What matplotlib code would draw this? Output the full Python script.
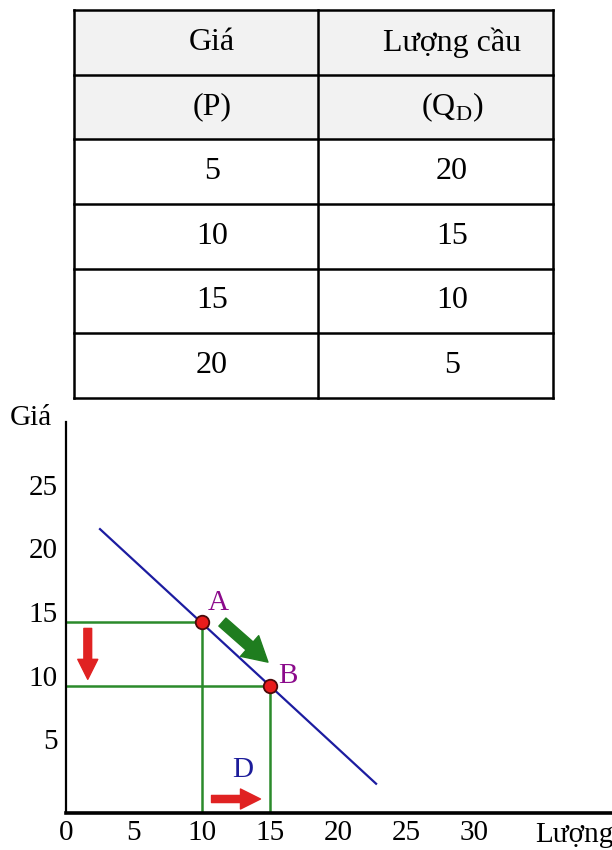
import numpy as np
import matplotlib.pyplot as plt
import matplotlib.transforms as mtransforms

# du lieu bang cau
header1 = ['Giá', 'Lượng cầu']
header2 = ['(P)', '(Q$_\\mathregular{D}$)']
gia = [5, 10, 15, 20]
luong_cau = [20, 15, 10, 5]

# duong cau va hai diem A, B
demand_q = [2.5, 22.8]
demand_p = [22.3, 2.3]
point_q = [10, 15]
point_p = [15, 10]
point_names = ['A', 'B']
xticks = [0, 5, 10, 15, 20, 25, 30]
yticks = [5, 10, 15, 20, 25]


def main():
    plt.rcParams['font.family'] = ['Liberation Serif', 'DejaVu Serif']
    W, H = 612, 850
    fig = plt.figure(figsize=(W / 100, H / 100), dpi=100)

    # ---- bang ----
    tl, tm, tr, tt, tb = 74, 318, 553, 10, 398
    axt = fig.add_axes([tl / W, 1 - tb / H, (tr - tl) / W, (tb - tt) / H])
    nrow = 2 + len(gia)
    axt.set_xlim(tl, tr)
    axt.set_ylim(nrow, 0)
    axt.axis('off')
    for r in range(2):
        axt.add_patch(plt.Rectangle((tl, r), tr - tl, 1, facecolor='#f2f2f2', edgecolor='none'))
    for r in range(nrow + 1):
        axt.plot([tl, tr], [r, r], color='black', lw=1.8, clip_on=False, solid_capstyle='projecting')
    for c in [tl, tm, tr]:
        axt.plot([c, c], [0, nrow], color='black', lw=1.8, clip_on=False, solid_capstyle='projecting')
    rows = [header1, header2] + [[str(g), str(q)] for g, q in zip(gia, luong_cau)]
    col_x = [212, 452]
    for r, row in enumerate(rows):
        for c, txt in enumerate(row):
            axt.text(col_x[c], r + 0.5, txt, ha='center', va='center', fontsize=23)

    # ---- do thi ----
    ox, oy = 66, 813
    sx, sy = 13.6, 12.73
    ax = fig.add_axes([ox / W, 1 - oy / H, (W - ox) / W, (oy - 422) / H])
    ax.set_xlim(0, (W - ox) / sx)
    ax.set_ylim(0, (oy - 422) / sy)
    for s in ['top', 'right']:
        ax.spines[s].set_visible(False)
    ax.spines['left'].set_linewidth(1.6)
    ax.spines['bottom'].set_linewidth(2.6)
    ax.set_xticks(xticks)
    ax.set_yticks(yticks)
    ax.tick_params(length=0, labelsize=21)
    ax.tick_params(axis='x', pad=5)
    ax.tick_params(axis='y', pad=6)
    off = mtransforms.ScaledTranslation(0, 10 / 100, fig.dpi_scale_trans)
    for lab in ax.get_yticklabels():
        lab.set_transform(lab.get_transform() + off)

    green = '#2b8a2b'
    for q, p in zip(point_q, point_p):
        ax.plot([0, q], [p, p], color=green, lw=1.8)
        ax.plot([q, q], [0, p], color=green, lw=1.8)
    ax.plot(demand_q, demand_p, color='#1c1ca0', lw=1.6)
    ax.scatter(point_q, point_p, s=95, color='#e81c1c', edgecolor='#4a0a0a', lw=1.3, zorder=5)
    ax.text(point_q[0] + 1.2, point_p[0] + 1.5, point_names[0], color='#8b0a8b', fontsize=21,
            ha='center', va='center')
    ax.text(point_q[1] + 1.3, point_p[1] + 0.8, point_names[1], color='#8b0a8b', fontsize=21,
            ha='center', va='center')

    # mui ten
    ax.annotate('', xy=(1.6, 10.5), xytext=(1.6, 14.5),
                arrowprops=dict(arrowstyle='simple,head_length=0.9,head_width=0.9,tail_width=0.35',
                                color='#e02222', mutation_scale=16, shrinkA=0, shrinkB=0))
    ax.annotate('', xy=(14.85, 11.85), xytext=(11.5, 15.0),
                arrowprops=dict(arrowstyle='simple,head_length=0.8,head_width=0.9,tail_width=0.35',
                                color='#1f7d1f', mutation_scale=22, shrinkA=0, shrinkB=0))
    ax.annotate('', xy=(14.3, 1.1), xytext=(10.7, 1.1),
                arrowprops=dict(arrowstyle='simple,head_length=0.9,head_width=0.9,tail_width=0.32',
                                color='#e02222', mutation_scale=16, shrinkA=0, shrinkB=0))
    ax.text(13.0, 3.4, 'D', color='#1c1c9a', fontsize=21, ha='center', va='center')

    ax.text(34.5, -1.73, 'Lượng', fontsize=21, ha='left', va='center', clip_on=False)
    fig.text(10 / W, 1 - 418 / H, 'Giá', fontsize=21, ha='left', va='center')

    plt.savefig('out.png', dpi=100)


if __name__ == '__main__':
    main()
